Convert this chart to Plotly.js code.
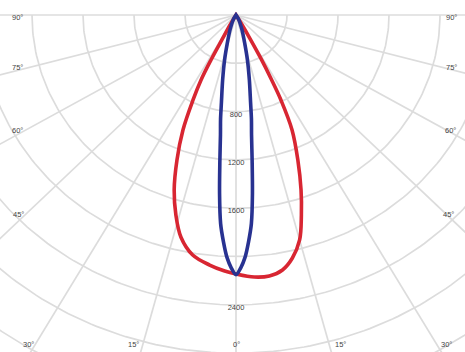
<!DOCTYPE html>
<html><head><meta charset="utf-8">
<script src="https://cdn.plot.ly/plotly-3.0.1.min.js"></script>
<style>html,body{margin:0;padding:0;background:#fff}#chart{width:465px;height:352px}</style>
</head><body><div id="chart"></div>
<script>
// Blue curve (symmetric plane): angle from nadir (deg) -> intensity (cd)
const blueAngles = [0, 1, 2, 3, 4, 5, 6, 7, 8, 9, 11, 13.5, 16, 21, 30, 40, 90];
const blueValues = [2150, 2095, 2010, 1880, 1730, 1480, 1210, 1000, 870, 730, 550, 385, 255, 130, 40, 0, 0];

// Red curve (negative = left side of the diagram)
const redAngles = [-90, -35, -29.6, -28.3, -27.8, -27, -25.6, -23.6, -21.1, -18.5, -15.9, -13.2, -9.7, -5.7, -2.4, 0,
                   3.8, 6.9, 9.8, 12.4, 15, 17.2, 19.4, 22, 24.8, 26.6, 27.5, 28.5, 29.5, 31, 35, 90];
const redValues = [0, 0, 95, 234, 421, 604, 780, 1039, 1286, 1528, 1721, 1890, 2016, 2080, 2121, 2144,
                   2174, 2176, 2142, 2060, 1928, 1734, 1536, 1295, 1048, 787, 600, 400, 200, 60, 0, 0];

// Grid
const ringValues = [400, 800, 1200, 1600, 2000, 2400, 2800, 3200, 3600, 4000];
const spokeAngles = [-90, -75, -60, -45, -30, -15, 0, 15, 30, 45, 60, 75, 90];
const ringLabels = ["800", "1200", "1600", "2400"];
const ringLabelValues = [800, 1200, 1600, 2400];
const angleLabels = ["90°", "75°", "60°", "45°", "30°", "15°", "0°", "15°", "30°", "45°", "60°", "75°", "90°"];

const rad = d => d * Math.PI / 180;
function toXY(angles, values) {
  return {
    x: angles.map((a, i) => values[i] * Math.sin(rad(a))),
    y: angles.map((a, i) => values[i] * Math.cos(rad(a)))
  };
}

const traces = [];
const gridStyle = {color: 'rgb(220,220,220)', width: 1.7};
ringValues.forEach(r => {
  const angs = [];
  for (let a = -90; a <= 90; a += 1) angs.push(a);
  const p = toXY(angs, angs.map(() => r));
  traces.push({type: 'scatter', mode: 'lines', x: p.x, y: p.y, line: gridStyle, hoverinfo: 'skip', showlegend: false});
});
spokeAngles.forEach(a => {
  const p = toXY([a, a], [0, 5000]);
  traces.push({type: 'scatter', mode: 'lines', x: p.x, y: p.y, line: gridStyle, hoverinfo: 'skip', showlegend: false});
});

// Ring labels along 0°
traces.push({
  type: 'scatter', mode: 'text', x: ringLabelValues.map(() => 0), y: ringLabelValues.map(v => v + 25),
  text: ringLabels, textposition: 'middle center',
  textfont: {family: 'Liberation Sans, Arial, sans-serif', size: 7.5, color: '#444'},
  hoverinfo: 'skip', showlegend: false
});

// Red curve
const rp = toXY(redAngles, redValues);
traces.push({type: 'scatter', mode: 'lines', x: rp.x, y: rp.y,
  line: {color: 'rgb(216,38,50)', width: 3.6, shape: 'spline', smoothing: 1.0}, hoverinfo: 'skip', showlegend: false});

// Blue curve (mirror both sides)
const bAng = blueAngles.slice().reverse().map(a => -a).concat(blueAngles.slice(1));
const bVal = blueValues.slice().reverse().concat(blueValues.slice(1));
const bp = toXY(bAng, bVal);
traces.push({type: 'scatter', mode: 'lines', x: bp.x, y: bp.y,
  line: {color: 'rgb(40,50,145)', width: 3.6, shape: 'spline', smoothing: 0.8}, hoverinfo: 'skip', showlegend: false});

// Angle labels at frame edges (pixel positions)
const labelPos = [[17,17],[17,68],[17,130],[18,214],[28,344],[133,344],[236,344],[340,344],[446,344],[448,214],[450,130],[451,68],[451,17]];
const W = 465, H = 352;
const annotations = angleLabels.map((t, i) => ({
  text: t, xref: 'paper', yref: 'paper', x: labelPos[i][0] / W, y: 1 - labelPos[i][1] / H,
  xanchor: 'center', yanchor: 'middle', showarrow: false,
  font: {family: 'Liberation Sans, Arial, sans-serif', size: 7.5, color: '#444'}
}));

const kx = 0.1275, ky = 0.1208, cx = 236, cy = 15;
const layout = {
  width: W, height: H,
  margin: {l: 0, r: 0, t: 0, b: 0},
  paper_bgcolor: '#fff', plot_bgcolor: '#fff',
  xaxis: {range: [-cx / kx, (W - cx) / kx], visible: false, fixedrange: true},
  yaxis: {range: [(H - cy) / ky, -cy / ky], visible: false, fixedrange: true},
  annotations: annotations,
  showlegend: false
};
Plotly.newPlot('chart', traces, layout, {displayModeBar: false, staticPlot: true});
</script>
</body></html>
